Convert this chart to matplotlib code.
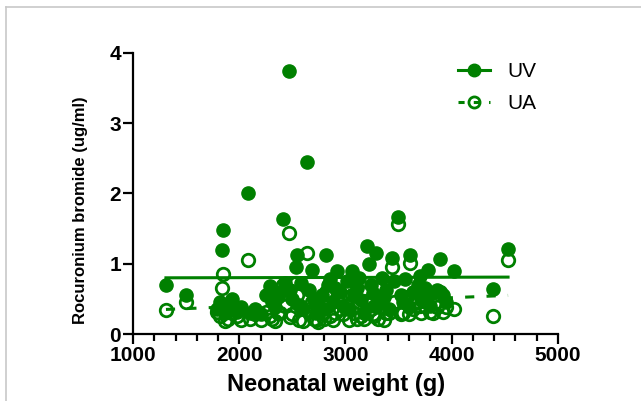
#!/usr/bin/env python3
'''
Rocuronium bromide in cord blood vs neonatal weight.
'''
### MODULES ---
import matplotlib
matplotlib.use('Agg')
import matplotlib.pyplot as plt
from matplotlib.lines import Line2D
from matplotlib.ticker import MultipleLocator


### DATA ---
weight = [1310, 1500, 1790, 1820, 1840, 1850, 1870, 1890, 1930, 1980,
          2020, 2080, 2100, 2150, 2250, 2290, 2310, 2340, 2380, 2410,
          2430, 2470, 2500, 2530, 2545, 2560, 2600, 2635, 2660, 2680,
          2700, 2740, 2780, 2820, 2840, 2855, 2880, 2920, 2950, 2980,
          3010, 3060, 3080, 3110, 3150, 3200, 3220, 3240, 3260, 3290,
          3310, 3340, 3380, 3440, 3460, 3490, 3520, 3560, 3610, 3640,
          3680, 3710, 3750, 3780, 3820, 3860, 3890, 3920, 4020, 4390,
          4530, 2200, 2360, 2480, 2580, 2720, 2800, 2900, 3030, 3130,
          3170, 3270, 3360, 3410, 3540, 3600, 3700, 3800, 3950]
uv = [0.70, 0.55, 0.36, 0.46, 1.20, 1.48, 0.30, 0.40, 0.50, 0.32,
      0.38, 2.00, 0.30, 0.35, 0.55, 0.68, 0.45, 0.38, 0.60, 1.63,
      0.72, 3.75, 0.50, 0.96, 1.13, 0.42, 0.35, 2.45, 0.62, 0.91,
      0.48, 0.40, 0.55, 1.13, 0.70, 0.79, 0.45, 0.89, 0.60, 0.40,
      0.75, 0.89, 0.55, 0.65, 0.48, 1.25, 0.99, 0.70, 0.58, 1.15,
      0.45, 0.80, 0.62, 1.08, 0.75, 1.67, 0.55, 0.79, 1.13, 0.60,
      0.70, 0.50, 0.65, 0.91, 0.58, 0.62, 1.07, 0.55, 0.89, 0.64,
      1.21, 0.28, 0.52, 0.62, 0.72, 0.30, 0.36, 0.65, 0.35, 0.80,
      0.30, 0.40, 0.52, 0.35, 0.45, 0.38, 0.82, 0.40, 0.45]
ua = [0.34, 0.46, 0.32, 0.26, 0.65, 0.85, 0.18, 0.22, 0.30, 0.25,
      0.20, 1.06, 0.22, 0.28, 0.32, 0.25, 0.22, 0.18, 0.30, 0.70,
      0.40, 1.44, 0.28, 0.73, 0.55, 0.20, 0.18, 1.15, 0.32, 0.45,
      0.22, 0.17, 0.30, 0.60, 0.40, 0.25, 0.20, 0.50, 0.35, 0.28,
      0.42, 0.55, 0.30, 0.22, 0.25, 0.60, 0.48, 0.35, 0.28, 0.65,
      0.22, 0.38, 0.30, 0.95, 0.45, 1.56, 0.28, 0.52, 1.01, 0.35,
      0.45, 0.30, 0.40, 0.58, 0.30, 0.38, 0.60, 0.32, 0.35, 0.25,
      1.06, 0.20, 0.30, 0.24, 0.38, 0.20, 0.22, 0.30, 0.20, 0.45,
      0.22, 0.25, 0.20, 0.30, 0.30, 0.28, 0.40, 0.32, 0.38]

# Linear fit end points
fit_x = [1310, 4530]
uv_fit = [0.80, 0.81]
ua_fit = [0.35, 0.55]

green = '#008000'


### PLOT ---
plt.rcParams['font.family'] = ['Liberation Sans', 'DejaVu Sans']

fig = plt.figure(figsize=(6.41, 4.01), dpi=100)
ax = fig.add_axes([0.2075, 0.167, 0.663, 0.701])

# Data points
ax.plot(weight, uv, 'o', color=green, ms=9.5, clip_on=False, zorder=3)
ax.plot(weight, ua, 'o', mfc='none', mec=green, mew=2.0, ms=9,
        clip_on=False, zorder=3)

# Fit lines
ax.plot(fit_x, uv_fit, '-', color=green, lw=2.2, zorder=4)
ax.plot(fit_x, ua_fit, '--', color=green, lw=2.2, dashes=(3, 4), zorder=4)

# Legend
h_uv = Line2D([], [], color=green, lw=2.2, marker='o', ms=9)
h_ua = Line2D([], [], color=green, lw=2.2, ls=(0, (2, 3)), marker='o',
              mfc='none', mew=2, ms=8)
leg = ax.legend([h_uv, h_ua], ['UV', 'UA'], loc='upper left',
                bbox_to_anchor=(458/641, 1 - 62/401),
                bbox_transform=fig.transFigure, frameon=False, fontsize=15,
                borderpad=0, borderaxespad=0, handlelength=1.55,
                handletextpad=0.8, labelspacing=0.62)

# Axes formatting
ax.set_xlim(1000, 5000)
ax.set_ylim(0, 4)
ax.xaxis.set_major_locator(MultipleLocator(1000))
ax.xaxis.set_minor_locator(MultipleLocator(200))
ax.yaxis.set_major_locator(MultipleLocator(1))
for s in ['top', 'right']:
    ax.spines[s].set_visible(False)
for s in ['left', 'bottom']:
    ax.spines[s].set_linewidth(1.6)
ax.tick_params(which='major', direction='out', length=7, width=1.6,
               labelsize=15, pad=1.5)
ax.tick_params(which='minor', direction='out', length=5, width=1.6)
for lab in ax.get_xticklabels() + ax.get_yticklabels():
    lab.set_fontweight('bold')

ax.set_xlabel('Neonatal weight (g)', fontsize=17, fontweight='bold')
ax.xaxis.set_label_coords(0.478, -0.139)
ax.set_ylabel('Rocuronium bromide (ug/ml)', fontsize=12, fontweight='bold')
ax.yaxis.set_label_coords(-0.105, 0.44)

# Screenshot frame
fig.add_artist(Line2D([6/641, 1], [1 - 7/401, 1 - 7/401], color='#c8c8c8',
                      lw=1.2, transform=fig.transFigure))
fig.add_artist(Line2D([6/641, 6/641], [0, 1 - 7/401], color='#c8c8c8',
                      lw=1.2, transform=fig.transFigure))

fig.savefig('out.png', dpi=100)
